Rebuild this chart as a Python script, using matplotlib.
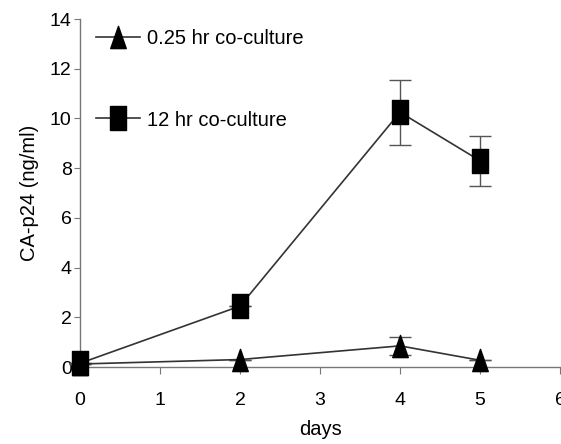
import numpy as np
import matplotlib
matplotlib.use("Agg")
import matplotlib.pyplot as plt
from matplotlib.path import Path

plt.rcParams['font.family'] = ['Liberation Sans', 'DejaVu Sans']

# data
days = [0, 2, 4, 5]
short_vals = [0.12, 0.3, 0.85, 0.27]     # 0.25 hr co-culture
short_err = [0, 0, 0.35, 0]
long_vals = [0.15, 2.45, 10.25, 8.3]     # 12 hr co-culture
long_err = [0, 0, 1.3, 1.0]
xticks = [0, 1, 2, 3, 4, 5, 6]
yticks = [0, 2, 4, 6, 8, 10, 12, 14]

# markers a bit taller than wide (the source scan is stretched)
sq = Path([(-0.65, -1), (0.65, -1), (0.65, 1), (-0.65, 1), (-0.65, -1)],
          [Path.MOVETO, Path.LINETO, Path.LINETO, Path.LINETO, Path.CLOSEPOLY])
tri = Path([(0, 1), (-0.7, -1), (0.7, -1), (0, 1)],
           [Path.MOVETO, Path.LINETO, Path.LINETO, Path.CLOSEPOLY])

fig = plt.figure(figsize=(5.61, 4.44), dpi=100)
ax = fig.add_axes([80/561, 1 - 367/444, 480/561, (367 - 19)/444])

ax.errorbar(days, long_vals, yerr=long_err, fmt='none', ecolor='#555555',
            elinewidth=1, capsize=8, capthick=1, zorder=2)
ax.errorbar(days, short_vals, yerr=short_err, fmt='none', ecolor='#555555',
            elinewidth=1, capsize=8, capthick=1, zorder=2)
ax.plot(days, short_vals, color='#333333', lw=1.2, marker=tri, ms=16,
        mfc='black', mec='black', label='0.25 hr co-culture', zorder=3)
ax.plot(days, long_vals, color='#333333', lw=1.2, marker=sq, ms=17,
        mfc='black', mec='black', label='12 hr co-culture', zorder=3)

ax.set_xlim(0, 6)
ax.set_ylim(0, 14)
ax.set_xticks(xticks)
ax.set_yticks(yticks)
ax.tick_params(axis='both', labelsize=14, color='#777777', direction='out')
ax.tick_params(axis='x', length=5, pad=13)
ax.tick_params(axis='y', length=4, pad=2)
for s in ['top', 'right']:
    ax.spines[s].set_visible(False)
for s in ['left', 'bottom']:
    ax.spines[s].set_color('#777777')
    ax.spines[s].set_linewidth(1)
ax.spines['bottom'].set_zorder(1)
for ln in ax.lines:
    ln.set_clip_on(False)

ax.set_xlabel('days', fontsize=14.5, labelpad=8)
ax.set_ylabel('CA-p24 (ng/ml)', fontsize=14.5, labelpad=8)

ax.legend(loc='upper left', bbox_to_anchor=(86/561, 1 - 19/444),
          bbox_transform=fig.transFigure, frameon=False, fontsize=14.5,
          numpoints=1, borderpad=0, labelspacing=3.1, handlelength=2.2,
          handletextpad=0.35)

fig.savefig('out.png', dpi=100)
